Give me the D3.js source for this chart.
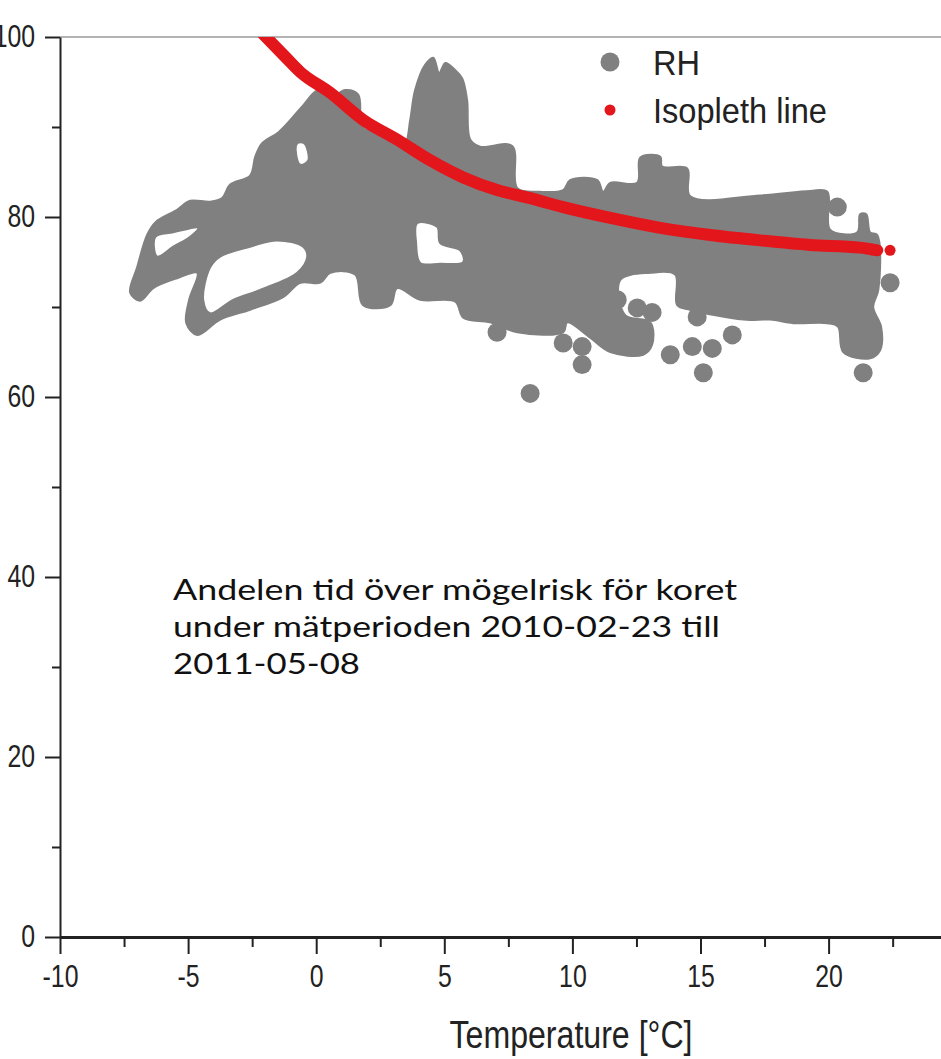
<!DOCTYPE html>
<html>
<head>
<meta charset="utf-8">
<script src="https://cdn.jsdelivr.net/npm/d3@7/dist/d3.min.js"></script>
<style>
  body { margin: 0; background: #fff; }
  svg { display: block; }
</style>
</head>
<body>
<svg id="chart" width="941" height="1059"></svg>
<script>
// isopleth line (temperature / RH)
var isoT  = [-2.3, -1.21, -0.62, 0.55, 1.83, 3.16, 4.45, 5.74, 7.06, 8.35, 9.64, 11.48, 13.43, 15.38, 17.33, 19.28, 21.23, 21.9];
var isoRH = [101, 97.8, 96.1, 93.8, 90.8, 88.6, 86.3, 84.4, 83.0, 82.1, 81.1, 79.9, 78.8, 78.0, 77.4, 76.9, 76.6, 76.3];
var isoLastT = [22.4], isoLastRH = [76.3];

// outer edge of the dense RH measurement cloud
var cloudT  = [-7.26, -6.99, -6.60, -6.28, -5.43, -4.92, -4.14, -3.67, -3.36, -2.58, -2.38, -2.11, -1.48, -0.94, -0.51, 0.08,
               0.62, 1.13, 1.64, 1.80, 2.34, 2.97, 3.20, 3.47, 3.67, 3.86, 4.25, 4.57, 4.80, 5.04, 5.43, 5.70, 5.89, 6.01, 6.40,
               7.65, 7.85, 8.74, 9.64, 9.91, 10.97, 11.20, 11.48, 12.53, 12.65, 13.43, 13.50, 14.48, 14.60, 17.33, 19.28,
               19.95, 20.06, 21.12, 21.23, 21.47, 21.62, 21.90, 21.94, 21.74, 22.05, 22.01, 21.62, 20.57, 20.37, 19.95,
               18.62, 17.72, 16.67, 14.60, 14.09, 14.01, 13.04, 11.87, 12.06, 13.04, 13.11, 12.76, 11.48, 10.69, 9.80,
               9.64, 7.85, 6.79, 5.74, 5.43, 4.06, 3.16, 2.89, 1.83, 1.52, 0.55, 0.16, -0.62, -1.29, -2.58, -3.75,
               -4.64, -5.07, -4.96, -4.64, -5.43, -6.36, -6.87];
var cloudRH = [71.6, 74.4, 78.0, 79.4, 80.8, 81.8, 81.7, 82.1, 83.6, 84.6, 86.7, 88.2, 89.4, 91.0, 92.4, 94.1,
               93.4, 94.1, 93.6, 90.0, 89.4, 89.4, 87.7, 88.0, 90.8, 94.1, 96.9, 97.7, 96.0, 97.1, 96.3, 95.4, 93.0, 88.6, 87.8,
               87.9, 83.2, 82.8, 83.0, 84.1, 84.1, 82.8, 83.8, 83.8, 86.6, 86.7, 85.6, 85.4, 82.3, 82.4, 82.9,
               82.8, 78.6, 78.3, 80.3, 80.3, 78.3, 78.0, 71.9, 70.0, 67.8, 65.2, 64.3, 65.0, 67.8, 68.2,
               68.2, 68.6, 68.6, 69.7, 70.2, 73.6, 73.8, 73.0, 69.1, 68.3, 65.8, 64.7, 65.0, 66.6, 68.3,
               67.2, 67.2, 68.3, 68.8, 70.6, 70.8, 72.1, 70.2, 70.2, 73.6, 73.8, 72.7, 72.7, 71.1, 69.7, 68.6,
               66.9, 68.2, 70.8, 73.8, 73.2, 72.1, 70.7];

// empty pockets inside the cloud
var gapT  = [[-6.28, -5.58, -4.61, -4.92, -5.58, -6.21],
             [-4.14, -3.75, -2.58, -1.52, -0.51, -0.35, -0.74, -2.19, -3.24, -4.14, -4.41],
             [-0.74, -0.47, -0.31, -0.62, -0.78],
             [3.94, 4.72, 4.84, 5.62, 5.74, 4.84, 4.06, 3.90]];
var gapRH = [[77.8, 78.3, 78.8, 77.8, 76.7, 75.6],
             [74.4, 75.6, 76.7, 77.4, 76.7, 75.6, 73.8, 71.9, 70.8, 69.3, 70.8],
             [88.2, 88.2, 86.3, 85.8, 86.9],
             [79.3, 78.9, 77.1, 76.3, 75.0, 74.8, 74.9, 77.1]];

// single RH points outside the cloud
var loneT  = [7.06, 9.64, 10.38, 10.38, 8.35, 11.75, 12.53, 13.11, 13.82, 14.87, 14.68, 15.46, 15.11, 16.24, 20.34, 22.40, 21.35];
var loneRH = [67.2, 66.0, 65.6, 63.6, 60.4, 70.8, 69.9, 69.4, 64.7, 68.9, 65.6, 65.4, 62.7, 66.9, 81.1, 72.7, 62.7];

var xMajor = [-10, -5, 0, 5, 10, 15, 20, 25];
var xMinor = [-7.5, -2.5, 2.5, 7.5, 12.5, 17.5, 22.5];
var yMajor = [0, 20, 40, 60, 80, 100];
var yMinor = [10, 30, 50, 70, 90];

var legendKeys = ["RH", "Isopleth line"];
var noteLines = ["Andelen tid över mögelrisk för koret",
                 "under mätperioden 2010-02-23 till",
                 "2011-05-08"];

var gray = "#808080", red = "#e3161c", ink = "#222";

var svg = d3.select("#chart");

var x = d3.scaleLinear().domain([-10, 25]).range([60, 60 + 35 * 25.62]);
var y = d3.scaleLinear().domain([0, 100]).range([937, 37]);

svg.append("clipPath").attr("id", "plot")
  .append("rect").attr("x", 60).attr("y", 37).attr("width", 890).attr("height", 900);

// top frame line
svg.append("line")
  .attr("x1", 60).attr("x2", 941).attr("y1", y(100)).attr("y2", y(100))
  .attr("stroke", "#b4b4b4").attr("stroke-width", 2);

// RH cloud: outer ring + pockets, even-odd fill
var ring = d3.line()
  .x(function(d){ return x(d[0]) })
  .y(function(d){ return y(d[1]) })
  .curve(d3.curveCatmullRomClosed.alpha(0.5));

var cloudPath = ring(d3.zip(cloudT, cloudRH));
gapT.forEach(function(g, i){ cloudPath += ring(d3.zip(g, gapRH[i])) });

var plot = svg.append("g").attr("clip-path", "url(#plot)");

plot.append("path")
  .attr("d", cloudPath)
  .attr("fill", gray)
  .attr("fill-rule", "evenodd")
  .attr("stroke", gray)
  .attr("stroke-width", 2)
  .attr("stroke-linejoin", "round");

plot.selectAll("circle.lone")
  .data(d3.zip(loneT, loneRH))
  .enter()
  .append("circle")
    .attr("class", "lone")
    .attr("cx", function(d){ return x(d[0]) })
    .attr("cy", function(d){ return y(d[1]) })
    .attr("r", 9.5)
    .style("fill", gray)

// isopleth line
plot.append("path")
  .datum(d3.zip(isoT, isoRH))
  .attr("d", d3.line()
    .x(function(d){ return x(d[0]) })
    .y(function(d){ return y(d[1]) })
    .curve(d3.curveMonotoneX))
  .attr("fill", "none")
  .attr("stroke", red)
  .attr("stroke-width", 12)
  .attr("stroke-linecap", "round");

plot.selectAll("circle.isoend")
  .data(d3.zip(isoLastT, isoLastRH))
  .enter()
  .append("circle")
    .attr("class", "isoend")
    .attr("cx", function(d){ return x(d[0]) })
    .attr("cy", function(d){ return y(d[1]) })
    .attr("r", 5.5)
    .style("fill", red)

// x axis
var xAxis = svg.append("g")
  .attr("transform", "translate(0," + y(0) + ")")
  .call(d3.axisBottom(x).tickValues(xMajor).tickSize(17).tickSizeOuter(0)
    .tickFormat(function(d){ return String(d) }));
svg.append("g")
  .attr("transform", "translate(0," + y(0) + ")")
  .call(d3.axisBottom(x).tickValues(xMinor).tickSize(10).tickFormat(""))
  .call(function(g){ g.select(".domain").remove() });

xAxis.select(".domain").attr("stroke-width", 3);
xAxis.selectAll(".tick text")
  .attr("y", 28)
  .attr("transform", "scale(0.8,1)");

// y axis
var yAxis = svg.append("g")
  .attr("transform", "translate(60,0)")
  .call(d3.axisLeft(y).tickValues(yMajor).tickSize(15).tickSizeOuter(0)
    .tickFormat(function(d){ return String(d) }));
svg.append("g")
  .attr("transform", "translate(60,0)")
  .call(d3.axisLeft(y).tickValues(yMinor).tickSize(8).tickFormat(""))
  .call(function(g){ g.select(".domain").remove() });

yAxis.select(".domain").attr("stroke-width", 2);
yAxis.selectAll(".tick text")
  .attr("x", -25 / 0.8)
  .attr("transform", "scale(0.8,1)");

svg.selectAll(".tick line").attr("stroke", ink).attr("stroke-width", 2);
svg.selectAll(".domain").attr("stroke", ink);
svg.selectAll(".tick text")
  .attr("fill", ink)
  .style("font-family", "'Liberation Sans', Arial, sans-serif")
  .style("font-size", "31px");

// axis title
svg.append("text")
  .attr("x", 571)
  .attr("y", 1048)
  .attr("text-anchor", "middle")
  .attr("textLength", 243)
  .attr("lengthAdjust", "spacingAndGlyphs")
  .style("font-family", "'Liberation Sans', Arial, sans-serif")
  .style("font-size", "38px")
  .style("fill", ink)
  .text("Temperature [\u00B0C]");

// legend
var legendColor = d3.scaleOrdinal().domain(legendKeys).range([gray, red]);
var legendR = d3.scaleOrdinal().domain(legendKeys).range([9.5, 5.5]);
var legendW = d3.scaleOrdinal().domain(legendKeys).range([47, 174]);

svg.selectAll("legenddots")
  .data(legendKeys)
  .enter()
  .append("circle")
    .attr("cx", 610)
    .attr("cy", function(d,i){ return 62 + i*48 })
    .attr("r", function(d){ return legendR(d) })
    .style("fill", function(d){ return legendColor(d) })

svg.selectAll("legendlabels")
  .data(legendKeys)
  .enter()
  .append("text")
    .attr("x", 653)
    .attr("y", function(d,i){ return 75 + i*48 })
    .attr("textLength", function(d){ return legendW(d) })
    .attr("lengthAdjust", "spacingAndGlyphs")
    .style("font-family", "'Liberation Sans', Arial, sans-serif")
    .style("font-size", "35px")
    .style("fill", ink)
    .text(function(d){ return d })

// note text
var noteW = [564, 547, 187];
svg.selectAll("notelines")
  .data(noteLines)
  .enter()
  .append("text")
    .attr("x", 173)
    .attr("y", function(d,i){ return 600 + i*37 })
    .attr("textLength", function(d,i){ return noteW[i] })
    .attr("lengthAdjust", "spacingAndGlyphs")
    .style("font-family", "Lato, 'Noto Sans', sans-serif")
    .style("font-size", "28px")
    .style("fill", "#111")
    .text(function(d){ return d })
</script>
</body>
</html>
